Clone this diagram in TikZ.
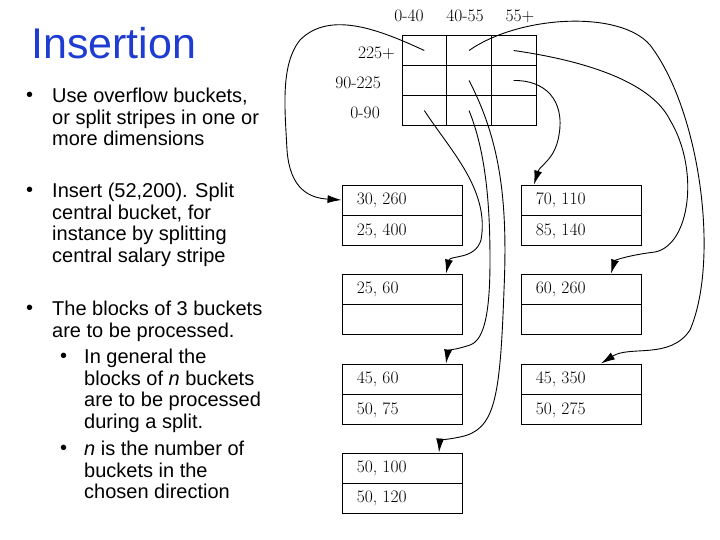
\documentclass[tikz,border=0pt]{standalone}
\usepackage{fontspec}
\newfontfamily\arial{Liberation Sans}
\usetikzlibrary{arrows.meta}
\begin{document}
\begin{tikzpicture}[x=1pt,y=-1pt,
  lm/.style={font=\fontsize{17.5}{19}\selectfont, inner sep=0pt},
  bt/.style={font=\arial\fontsize{20}{21.6}\selectfont, inner sep=0pt, anchor=north west, align=left},
  bkt/.style={draw, line width=0.9pt, minimum width=120pt, minimum height=30pt, inner sep=0pt},
  cell/.style={draw, line width=0.9pt, minimum width=44.7pt, minimum height=30pt, inner sep=0pt},
  ptr/.style={line width=0.9pt, -{Latex[length=14pt,width=8pt]}}]
\useasboundingbox (0,0) rectangle (720,540);
% title
\node[font=\arial\fontsize{43}{46}\selectfont, text={rgb,255:red,30;green,60;blue,210}, anchor=west, inner sep=0pt] (title) at (31,43) {Insertion};
% bullets
\node[bt] (b1d) at (26,92) {•};
\node[bt] (b1) at (52,88) {Use overflow buckets,\\or split stripes in one or\\more dimensions};
\node[bt] (b2d) at (26,187) {•};
\node[bt] (b2) at (52,183) {Insert (52,200). Split\\central bucket, for\\instance by splitting\\central salary stripe};
\node[bt] (b3d) at (26,305) {•};
\node[bt] (b3) at (52,301) {The blocks of 3 buckets\\are to be processed.};
\node[bt] (s1d) at (60,353) {•};
\node[bt] (s1) at (84,349) {In general the\\blocks of \textit{n} buckets\\are to be processed\\during a split.};
\node[bt] (s2d) at (60,445) {•};
\node[bt] (s2) at (84,441) {\textit{n} is the number of\\buckets in the\\chosen direction};
% grid
\foreach \c/\x in {1/424.3,2/469,3/513.7}{
  \foreach \r/\y in {1/50.5,2/80.5,3/110.5}{
    \node[cell] (g\c\r) at (\x,\y) {};}}
\node[lm] (c1) at (409,16) {0-40};
\node[lm] (c2) at (465,16) {40-55};
\node[lm] (c3) at (520,16) {55+};
\node[lm,anchor=east] (r1) at (395,53) {225+};
\node[lm,anchor=east] (r2) at (381,83) {90-225};
\node[lm,anchor=east] (r3) at (380,113) {0-90};
% buckets
\foreach \n/\x/\y/\a/\b in {L1/402/200/{30, 260}/{25, 400}, R1/581/200/{70, 110}/{85, 140},
  L2/402/289/{25, 60}/{}, R2/581/289/{60, 260}/{}, L3/402/379/{45, 60}/{50, 75},
  R3/581/379/{45, 350}/{50, 275}, L4/402/468/{50, 100}/{50, 120}}{
  \node[bkt] (\n a) at (\x,\y) {};
  \node[bkt,anchor=north] (\n b) at (\n a.south) {};
  \node[lm,anchor=west] (\n ta) at ([xshift=15pt]\n a.west) {\a};
  \node[lm,anchor=west] (\n tb) at ([xshift=15pt]\n b.west) {\b};}
% pointers
\draw[ptr] (g11.center) .. controls (380,30) and (330,10) .. (300,40)
  .. controls (280,65) and (285,110) .. (287,150) .. controls (290,190) and (310,198) .. (L1a.west);
\draw[ptr] (g21.center) .. controls (520,15) and (620,10) .. (650,45)
  .. controls (700,110) and (720,260) .. (690,330) .. controls (670,360) and (630,345) .. ([xshift=20pt]R3a.north);
\draw[ptr] (g31.center) .. controls (580,60) and (650,80) .. (670,120)
  .. controls (700,170) and (690,245) .. (655,252) .. controls (630,255) and (615,260) .. ([xshift=30pt]R2a.north);
\draw[ptr] (g32.center) .. controls (545,80) and (565,100) .. (559,135)
  .. controls (555,160) and (540,165) .. ([xshift=-47pt]R1a.north);
\draw[ptr] (g13.center) .. controls (450,150) and (490,190) .. (481,240)
  .. controls (475,260) and (450,255) .. ([xshift=44pt]L2a.north);
\draw[ptr] (g23.center) .. controls (485,150) and (490,200) .. (490,260)
  .. controls (490,310) and (485,340) .. (470,345) .. controls (455,350) and (448,350) .. ([xshift=44pt]L3a.north);
\draw[ptr] (g22.center) .. controls (500,140) and (508,200) .. (504,290)
  .. controls (500,400) and (495,430) .. (460,437) .. controls (445,440) and (440,440) .. ([xshift=37pt]L4a.north);
\end{tikzpicture}
\end{document}
